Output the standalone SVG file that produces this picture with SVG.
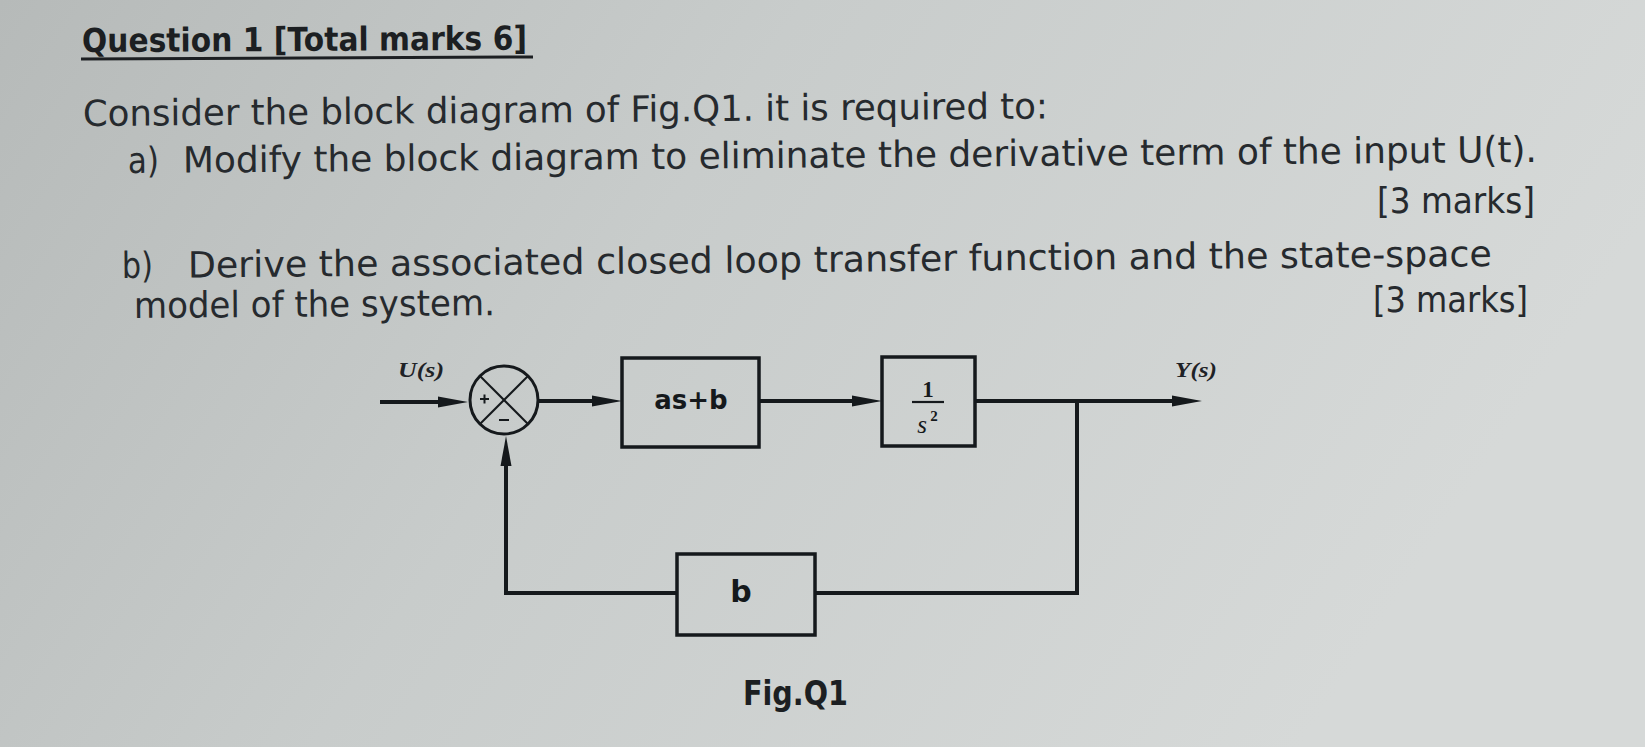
<svg xmlns="http://www.w3.org/2000/svg" width="1645" height="747" viewBox="0 0 1645 747">
  <defs>
    <linearGradient id="bg" x1="0" y1="0" x2="1" y2="0.3">
      <stop offset="0" stop-color="#b6bab9"/>
      <stop offset="0.45" stop-color="#c8cccb"/>
      <stop offset="1" stop-color="#d6d9d8"/>
    </linearGradient>
    <marker id="arr" viewBox="0 0 30 14" refX="10" refY="7" markerWidth="30" markerHeight="14" markerUnits="userSpaceOnUse" orient="auto">
      <path d="M0,1.5 L30,7 L0,12.5 z" fill="#15191c"/>
    </marker>
    <style>
      .body { font-family: "DejaVu Sans", "Liberation Sans", sans-serif; font-size: 36px; fill: #262a2e; }
      .title { font-family: "DejaVu Sans", "Liberation Sans", sans-serif; font-size: 33px; font-weight: bold; fill: #1c1f22; }
      .blk { fill: none; stroke: #15191c; stroke-width: 3.5; }
      .wire { fill: none; stroke: #15191c; stroke-width: 4; }
      .blabel { font-family: "DejaVu Sans", "Liberation Sans", sans-serif; font-weight: bold; fill: #15191c; text-anchor: middle; }
      .sig { font-family: "Liberation Serif", serif; font-style: italic; font-weight: bold; font-size: 21px; fill: #1e2226; }
      .frac { font-family: "Liberation Serif", serif; fill: #15191c; text-anchor: middle; }
    </style>
  </defs>

  <rect x="0" y="0" width="1645" height="747" fill="url(#bg)"/>

  <g id="question-text">
    <text class="title" x="82" y="52" textLength="445" lengthAdjust="spacingAndGlyphs" transform="rotate(-0.3 82 52)">Question 1 [Total marks 6]</text>
    <line x1="81" y1="59" x2="533" y2="57" stroke="#1c1f22" stroke-width="3"/>
    <text class="body" x="83" y="126" textLength="965" lengthAdjust="spacingAndGlyphs" transform="rotate(-0.45 83 126)">Consider the block diagram of Fig.Q1. it is required to:</text>
    <text class="body" transform="rotate(-0.45 128 173)"><tspan x="128" y="173" textLength="31" lengthAdjust="spacingAndGlyphs">a)</tspan><tspan x="183" y="173" textLength="1354" lengthAdjust="spacingAndGlyphs">Modify the block diagram to eliminate the derivative term of the input U(t).</tspan></text>
    <text class="body" x="1377" y="213" textLength="158" lengthAdjust="spacingAndGlyphs">[3 marks]</text>
    <text class="body" transform="rotate(-0.5 122 278)"><tspan x="122" y="278" textLength="31" lengthAdjust="spacingAndGlyphs">b)</tspan><tspan x="188" y="278" textLength="1304" lengthAdjust="spacingAndGlyphs">Derive the associated closed loop transfer function and the state-space</tspan></text>
    <text class="body" x="134" y="318" textLength="361" lengthAdjust="spacingAndGlyphs" transform="rotate(-0.45 134 318)">model of the system.</text>
    <text class="body" x="1373" y="312" textLength="155" lengthAdjust="spacingAndGlyphs">[3 marks]</text>
  </g>

  <g id="connectors">
    <path class="wire" d="M380,402 H448" marker-end="url(#arr)"/>
    <path class="wire" d="M538,401 H602" marker-end="url(#arr)"/>
    <path class="wire" d="M759,401 H862" marker-end="url(#arr)"/>
    <path class="wire" d="M975,401 H1182" marker-end="url(#arr)"/>
    <path class="wire" d="M1077,401 V593 H815"/>
    <path class="wire" d="M677,593 H506 V456" marker-end="url(#arr)"/>
  </g>

  <g id="sum">
    <circle cx="504" cy="400" r="34" fill="none" stroke="#15191c" stroke-width="3"/>
    <line x1="480" y1="376" x2="528" y2="424" stroke="#15191c" stroke-width="2"/>
    <line x1="528" y1="376" x2="480" y2="424" stroke="#15191c" stroke-width="2"/>
    <path d="M480,399 H489 M484.5,394.5 V403.5" stroke="#15191c" stroke-width="2"/>
    <path d="M499,420 H509" stroke="#15191c" stroke-width="2"/>
  </g>

  <g id="block-asb">
    <rect class="blk" x="622" y="358" width="137" height="89"/>
    <text class="blabel" x="691" y="409" font-size="26">as+b</text>
  </g>

  <g id="block-plant">
    <rect class="blk" x="882" y="357" width="93" height="89"/>
    <text class="frac" x="928" y="397" font-size="23" font-weight="bold">1</text>
    <line x1="912" y1="402" x2="944" y2="402" stroke="#15191c" stroke-width="2.2"/>
    <text class="frac" x="922" y="433" font-size="25" font-style="italic">s</text>
    <text class="frac" x="934" y="421" font-size="15" font-weight="bold">2</text>
  </g>

  <g id="block-b">
    <rect class="blk" x="677" y="554" width="138" height="81"/>
    <text class="blabel" x="741" y="602" font-size="30">b</text>
  </g>

  <g id="signals">
    <text class="sig" x="398" y="377" textLength="46" lengthAdjust="spacingAndGlyphs">U(s)</text>
    <text class="sig" x="1175" y="377" textLength="42" lengthAdjust="spacingAndGlyphs">Y(s)</text>
  </g>

  <g id="caption">
    <text x="743" y="705" font-family="DejaVu Sans, Liberation Sans, sans-serif" font-size="33" font-weight="bold" fill="#1c1f22" textLength="105" lengthAdjust="spacingAndGlyphs">Fig.Q1</text>
  </g>
</svg>
